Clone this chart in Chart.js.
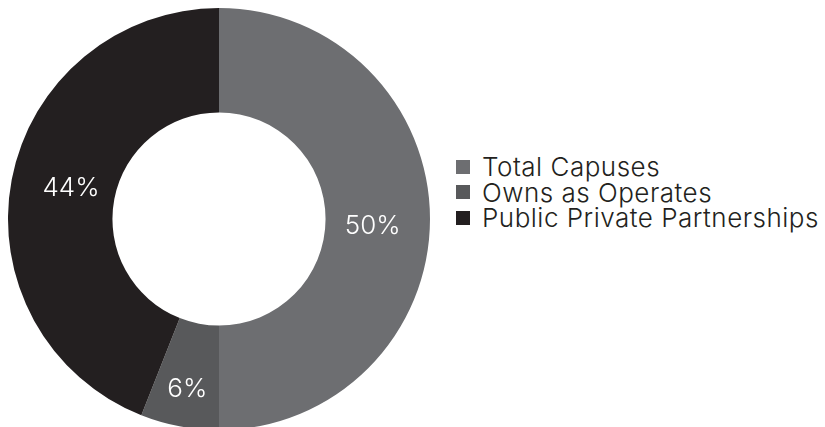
<!DOCTYPE html>
<html>
<head>
<meta charset="utf-8">
<script src="https://cdn.jsdelivr.net/npm/chart.js@4/dist/chart.umd.min.js"></script>
<style>
  html, body { margin: 0; padding: 0; background: #ffffff; overflow: hidden; width: 825px; height: 427px; }
  #wrap { position: absolute; left: 0; top: 0; width: 438px; height: 438px; }
  #legend { position: absolute; left: 456px; top: 154px; font-family: Inter, "Liberation Sans", sans-serif; font-weight: 300; font-size: 26px; letter-spacing: 0.5px; color: #231f20; }
  #legend .row { display: flex; align-items: center; height: 25.5px; white-space: nowrap; }
  #legend .sw { width: 14px; height: 14px; margin-right: 12px; flex: none; }
</style>
</head>
<body>
<div id="wrap"><canvas id="c" width="438" height="438"></canvas></div>
<div id="legend"></div>
<script>
const categories = ["Total Capuses", "Owns as Operates", "Public Private Partnerships"];
const shares = [50, 6, 44];
const colors = ["#6d6e71", "#58595b", "#231f20"];

// Writes each slice's percentage inside its arc, with a small per-slice nudge
const sliceLabels = {
  id: "sliceLabels",
  afterDatasetsDraw(chart, args, opts) {
    const ctx = chart.ctx;
    const meta = chart.getDatasetMeta(0);
    const nudge = opts.nudge || [];
    ctx.save();
    ctx.fillStyle = "#ffffff";
    ctx.font = "300 26px Inter, 'Liberation Sans', sans-serif";
    ctx.textAlign = "center";
    ctx.textBaseline = "middle";
    meta.data.forEach((arc, i) => {
      const p = arc.tooltipPosition();
      const d = nudge[i] || [0, 0];
      ctx.fillText(shares[i] + "%", p.x + d[0], p.y + d[1]);
    });
    ctx.restore();
  }
};

const chart = new Chart(document.getElementById("c"), {
  type: "doughnut",
  data: {
    labels: categories,
    datasets: [{
      data: shares,
      backgroundColor: colors,
      borderWidth: 0
    }]
  },
  options: {
    responsive: false,
    animation: false,
    cutout: "50.5%",
    layout: { padding: 8 },
    plugins: {
      legend: { display: false },
      tooltip: { enabled: false },
      sliceLabels: { nudge: [[-5, 7], [-2, 14], [8, -1]] }
    }
  },
  plugins: [sliceLabels]
});

// Legend built from the same categories and colours
const legend = document.getElementById("legend");
categories.forEach((name, i) => {
  const row = document.createElement("div");
  row.className = "row";
  const sw = document.createElement("span");
  sw.className = "sw";
  sw.style.background = colors[i];
  const tx = document.createElement("span");
  tx.textContent = name;
  row.appendChild(sw);
  row.appendChild(tx);
  legend.appendChild(row);
});
</script>
</body>
</html>
